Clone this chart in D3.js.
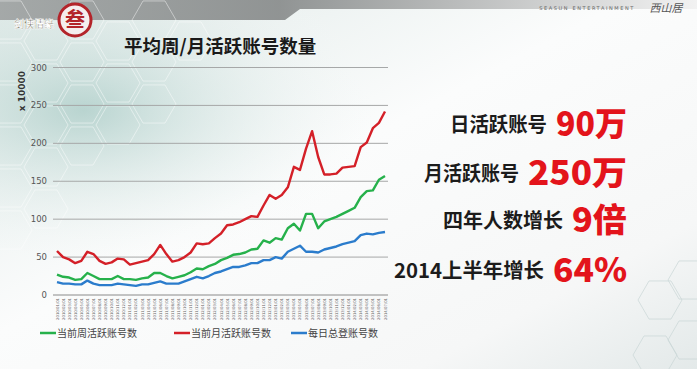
<!DOCTYPE html>
<html><head><meta charset="utf-8">
<script src="https://cdn.jsdelivr.net/npm/d3@7"></script>
<style>html,body{margin:0;padding:0;overflow:hidden;background:#fff}</style>
</head><body>
<svg id="c" width="697" height="369"></svg>
<script>
const months = [];
for (let y = 2010; y <= 2014; y++) for (let m = 1; m <= 12; m++) { if (y === 2014 && m > 7) break; months.push(y + "/" + String(m).padStart(2, "0") + "/01"); }
const weekly = [27,24,23,20,21,29,25,21,21,21,25,21,21,20,22,23,29,29,25,22,24,26,30,35,34,38,41,46,49,53,54,56,60,61,72,69,75,73,88,94,85,107,107,88,97,100,103,107,111,115,129,137,138,152,157];
const monthly = [58,50,47,42,45,57,54,45,41,43,48,47,40,42,44,46,54,66,54,44,46,50,56,68,67,68,75,81,92,93,96,100,104,103,118,132,127,132,142,169,165,193,216,182,159,159,160,168,169,170,195,201,220,227,242];
const daily = [17,15,15,14,14,19,15,13,13,13,15,14,13,12,14,14,16,18,15,15,15,18,21,24,22,25,29,31,34,37,37,39,42,42,46,46,50,48,57,61,65,57,57,56,60,62,64,67,69,71,79,81,80,82,83];
const yTicks = [0,50,100,150,200,250,300];
const seriesNames = ["当前周活跃账号数","当前月活跃账号数","每日总登账号数"];
const stats = [["日活跃账号","90万"],["月活跃账号","250万"],["四年人数增长","9倍"],["2014上半年增长","64%"]];

const svg = d3.select("#c");
const defs = svg.append("defs");
const bg = defs.append("linearGradient").attr("id","bg").attr("x1",0).attr("y1",0).attr("x2",1).attr("y2",1);
bg.append("stop").attr("offset","0%").attr("stop-color","#dfe9e7");
bg.append("stop").attr("offset","45%").attr("stop-color","#fbfcfc");
bg.append("stop").attr("offset","80%").attr("stop-color","#f6f7f7");
bg.append("stop").attr("offset","100%").attr("stop-color","#e3e9e9");
const rg = defs.append("radialGradient").attr("id","teal").attr("cx",0.12).attr("cy",0.3).attr("r",0.45);
rg.append("stop").attr("offset","0%").attr("stop-color","#8fbcb5").attr("stop-opacity",0.55);
rg.append("stop").attr("offset","100%").attr("stop-color","#ffffff").attr("stop-opacity",0);
const tg = defs.append("linearGradient").attr("id","top").attr("x1",0).attr("x2",1);
tg.append("stop").attr("offset","0%").attr("stop-color","#9a9d9d");
tg.append("stop").attr("offset","40%").attr("stop-color","#808383");
tg.append("stop").attr("offset","100%").attr("stop-color","#f0f0f0");

svg.append("rect").attr("width",697).attr("height",369).attr("fill","url(#bg)");
svg.append("rect").attr("width",697).attr("height",369).attr("fill","url(#teal)");
svg.append("path").attr("d","M0,0H697V9H300L285,20H0Z").attr("fill","url(#top)").attr("opacity",0.85);

// hexagon decoration
const hex = (cx, cy, r) => d3.range(6).map(i => [cx + r*Math.cos(Math.PI/3*i), cy + r*Math.sin(Math.PI/3*i)]);
const hg = svg.append("g").attr("fill","none").attr("stroke","#ffffff").attr("stroke-opacity",0.45).attr("stroke-width",1);
for (let i = 0; i < 6; i++) for (let j = 0; j < 6; j++) {
  const cx = 10 + i*36, cy = 20 + j*42 + (i%2)*21;
  if (cx + cy < 260) hg.append("path").attr("d", "M" + hex(cx, cy, 22).join("L") + "Z");
}
const hg2 = svg.append("g").attr("fill","none").attr("stroke","#c9d6d6").attr("stroke-opacity",0.7);
[[660,300],[690,280],[690,340],[655,355]].forEach(p => hg2.append("path").attr("d","M"+hex(p[0],p[1],22).join("L")+"Z"));

// logo
const lg = svg.append("g");
lg.append("circle").attr("cx",75).attr("cy",20).attr("r",16).attr("fill","#f4eeee").attr("stroke","#b3242a").attr("stroke-width",3);
lg.append("text").attr("x",75).attr("y",27).attr("text-anchor","middle").attr("font-family","Noto Sans CJK SC").attr("font-weight","bold").attr("font-size",20).attr("fill","#b3242a").text("叁");
lg.append("text").attr("x",34).attr("y",28).attr("text-anchor","middle").attr("font-family","Noto Sans CJK SC").attr("font-weight","bold").attr("font-size",10).attr("fill","#6f6a55").attr("stroke","#fff").attr("stroke-width",0.6).text("剑侠情缘");
svg.append("text").attr("x",635).attr("y",10).attr("text-anchor","end").attr("font-family","DejaVu Sans").attr("font-size",5).attr("letter-spacing",1.6).attr("fill","#666").text("SEASUN ENTERTAINMENT");
svg.append("text").attr("x",666).attr("y",12).attr("text-anchor","middle").attr("font-family","Noto Sans CJK SC").attr("font-size",11).attr("font-style","italic").attr("fill","#555").text("西山居");

// title
svg.append("text").attr("x",124).attr("y",53).attr("font-family","Noto Sans CJK SC").attr("font-weight","bold").attr("font-size",18.5).attr("fill","#1a1a1a").text("平均周/月活跃账号数量");

const x = d3.scalePoint().domain(months).range([57, 385]);
const y = d3.scaleLinear().domain([0, 300]).range([295, 67.5]);

// grid
svg.append("g").selectAll("line").data(yTicks).join("line")
  .attr("x1",53).attr("x2",388).attr("y1",d=>y(d)).attr("y2",d=>y(d))
  .attr("stroke",d=>d===0?"#8a8a8a":"#a6a8a8").attr("stroke-width",1);
svg.append("g").selectAll("text").data(yTicks).join("text")
  .attr("x",47).attr("y",d=>y(d)+3).attr("text-anchor","end")
  .attr("font-family","DejaVu Sans").attr("font-size",8.5).attr("fill","#555").text(d=>d);
svg.append("text").attr("transform","translate(25,91) rotate(-90)").attr("text-anchor","middle")
  .attr("font-family","DejaVu Sans").attr("font-weight","bold").attr("font-size",9).attr("fill","#333").text("x 10000");

// x labels
svg.append("g").selectAll("text").data(months).join("text")
  .attr("transform",d=>`translate(${x(d)+1.5},298) rotate(-90)`).attr("text-anchor","end")
  .attr("font-family","DejaVu Sans").attr("font-size",3.8).attr("fill","#666").text(d=>d);

// lines
const colors = ["#26b14b","#d42028","#2b7ccc"];
const line = d3.line().x((d,i)=>x(months[i])).y(d=>y(d));
[weekly, monthly, daily].forEach((s,k) => {
  svg.append("path").attr("d",line(s)).attr("fill","none").attr("stroke",colors[k]).attr("stroke-width",2.4).attr("stroke-linejoin","round");
});

// legend
const legX = [40, 174, 291];
seriesNames.forEach((n,k) => {
  svg.append("line").attr("x1",legX[k]).attr("x2",legX[k]+16).attr("y1",333).attr("y2",333).attr("stroke",colors[k]).attr("stroke-width",2.5);
  svg.append("text").attr("x",legX[k]+17).attr("y",337).attr("font-family","Noto Sans CJK SC").attr("font-size",10).attr("fill","#444").text(n);
});

// stats
const rowY = [132, 181, 228, 278];
const blackW = [97, 95, 120, 150];
const redW = [71, 99, 55, 74];
stats.forEach((s,k) => {
  svg.append("text").attr("x",627).attr("y",rowY[k]+4).attr("text-anchor","end")
    .attr("font-family","Noto Sans CJK SC").attr("font-weight","900").attr("font-size",33).attr("fill","#e3141b")
    .attr("textLength",redW[k]).attr("lengthAdjust","spacingAndGlyphs").text(s[1]);
  svg.append("text").attr("x",627 - redW[k] - 9).attr("y",rowY[k]).attr("text-anchor","end")
    .attr("font-family","Noto Sans CJK SC").attr("font-weight","bold").attr("font-size",20).attr("fill","#1c1c1c")
    .attr("textLength",blackW[k]).attr("lengthAdjust","spacingAndGlyphs").text(s[0]);
});
</script>
</body></html>
